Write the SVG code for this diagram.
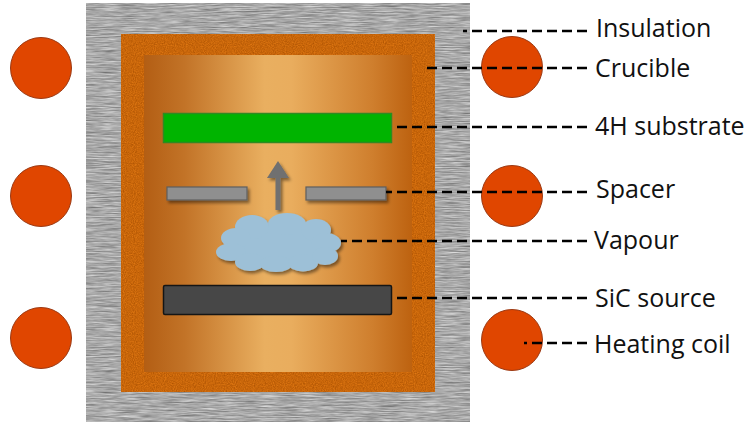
<svg xmlns="http://www.w3.org/2000/svg" width="748" height="425" viewBox="0 0 748 425">
  <defs>
    <style>
      .lead { stroke: #000; stroke-width: 2.6; stroke-dasharray: 10 5; fill: none; }
      .label { font-family: "Open Sans", "Liberation Sans", sans-serif; font-size: 25px; fill: #111; }
      .coil { fill: #e04600; stroke: #9c3a14; stroke-width: 1; }
      .spacer { fill: #8f8f8f; stroke: #5f5f5f; stroke-width: 1.2; }
    </style>
    <!-- brushed grey for the insulation block -->
    <filter id="brushed" x="0" y="0" width="100%" height="100%" color-interpolation-filters="sRGB">
      <feTurbulence type="fractalNoise" baseFrequency="0.05 0.8" numOctaves="3" seed="7" result="n"/>
      <feColorMatrix in="n" type="matrix" values="0.5 0 0 0 0.41  0.5 0 0 0 0.41  0.5 0 0 0 0.41  0 0 0 0 1" result="g"/>
      <feComposite in="g" in2="SourceGraphic" operator="in"/>
    </filter>
    <!-- grainy orange for the crucible wall -->
    <filter id="grain" x="0" y="0" width="100%" height="100%" color-interpolation-filters="sRGB">
      <feTurbulence type="fractalNoise" baseFrequency="0.9" numOctaves="2" seed="3" result="n"/>
      <feColorMatrix in="n" type="matrix" values="0.25 0 0 0 0.66  0.18 0 0 0 0.31  0.08 0 0 0 0.0  0 0 0 0 1" result="o"/>
      <feComposite in="o" in2="SourceGraphic" operator="in"/>
    </filter>
    <filter id="shadow" x="-20%" y="-30%" width="140%" height="170%">
      <feDropShadow dx="2" dy="2.5" stdDeviation="1.4" flood-color="#000" flood-opacity="0.45"/>
    </filter>
    <linearGradient id="cavity" x1="0" y1="0" x2="1" y2="0">
      <stop offset="0" stop-color="#b35e14"/>
      <stop offset="0.15" stop-color="#c27327"/>
      <stop offset="0.45" stop-color="#e9af60"/>
      <stop offset="0.55" stop-color="#e9ad5e"/>
      <stop offset="0.85" stop-color="#cf7f2e"/>
      <stop offset="1" stop-color="#bd6210"/>
    </linearGradient>
  </defs>

  <rect width="748" height="425" fill="#fff"/>

  <g id="insulation">
    <rect x="86" y="3" width="384" height="419" fill="#aaa" filter="url(#brushed)"/>
  </g>

  <g id="crucible">
    <rect x="121" y="34" width="314" height="358" fill="#c8680c" filter="url(#grain)"/>
    <rect x="144" y="55" width="268" height="317" fill="url(#cavity)"/>
  </g>

  <g id="substrate">
    <rect x="163.5" y="113.5" width="228" height="29" fill="#00b400" stroke="#2f8a22" stroke-width="1.5"/>
  </g>

  <g id="spacer" filter="url(#shadow)">
    <rect class="spacer" x="167" y="187" width="80" height="13"/>
    <rect class="spacer" x="306" y="187" width="80" height="13"/>
  </g>

  <g id="flow-arrow" filter="url(#shadow)" fill="#6f6f6f">
    <rect x="275.5" y="176" width="5" height="34"/>
    <polygon points="267,178 278,161 289,178"/>
  </g>

  <g id="vapour" filter="url(#shadow)" fill="#9dc0d7">
    <ellipse cx="280" cy="245" rx="46" ry="20"/>
    <ellipse cx="252" cy="227" rx="17" ry="12"/>
    <ellipse cx="287" cy="224" rx="19" ry="11"/>
    <ellipse cx="316" cy="230" rx="15" ry="11"/>
    <ellipse cx="236" cy="238" rx="15" ry="10"/>
    <ellipse cx="231" cy="252" rx="15" ry="9"/>
    <ellipse cx="326" cy="243" rx="15" ry="10"/>
    <ellipse cx="250" cy="262" rx="15" ry="9"/>
    <ellipse cx="276" cy="264" rx="16" ry="8"/>
    <ellipse cx="303" cy="263" rx="15" ry="8.5"/>
    <ellipse cx="325" cy="256" rx="13" ry="9"/>
  </g>

  <g id="sic-source">
    <rect x="163.5" y="285.5" width="228" height="29" rx="1.5" fill="#474747" stroke="#151515" stroke-width="1.5"/>
  </g>

  <g id="heating-coil">
    <circle class="coil" cx="41" cy="68" r="30.5"/>
    <circle class="coil" cx="41" cy="196" r="30.5"/>
    <circle class="coil" cx="41" cy="338" r="30.5"/>
    <circle class="coil" cx="512" cy="67" r="30.5"/>
    <circle class="coil" cx="512" cy="196" r="30.5"/>
    <circle class="coil" cx="512" cy="340" r="30.5"/>
  </g>

  <g id="connectors">
    <line class="lead" x1="587" y1="31" x2="463" y2="31"/>
    <line class="lead" x1="587" y1="68" x2="426" y2="68"/>
    <line class="lead" x1="587" y1="127" x2="392" y2="127"/>
    <line class="lead" x1="587" y1="192" x2="386" y2="192"/>
    <line class="lead" x1="587" y1="241" x2="341" y2="241"/>
    <line class="lead" x1="587" y1="298" x2="392" y2="298"/>
    <line class="lead" x1="587" y1="343" x2="524" y2="343"/>
  </g>

  <g id="labels">
    <text class="label" x="596" y="37">Insulation</text>
    <text class="label" x="595" y="77">Crucible</text>
    <text class="label" x="595" y="135">4H substrate</text>
    <text class="label" x="596" y="198">Spacer</text>
    <text class="label" x="594" y="249">Vapour</text>
    <text class="label" x="595" y="307">SiC source</text>
    <text class="label" x="594" y="353">Heating coil</text>
  </g>
</svg>
